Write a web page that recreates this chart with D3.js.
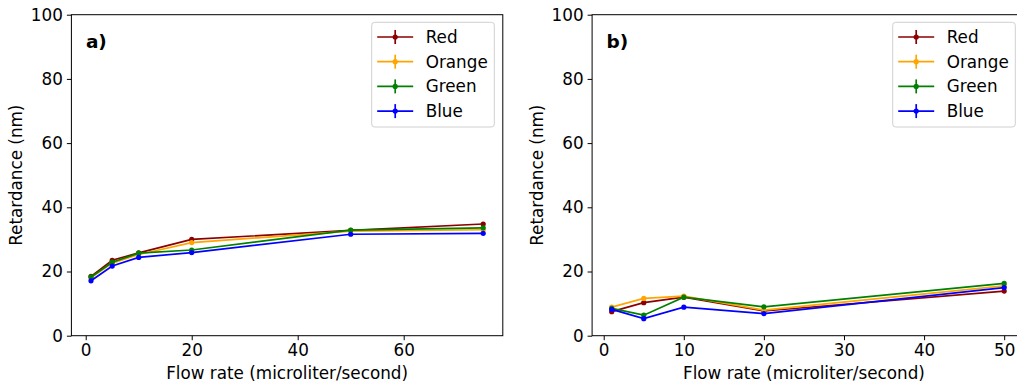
<!DOCTYPE html>
<html>
<head>
<meta charset="utf-8">
<script src="https://cdn.jsdelivr.net/npm/d3@7"></script>
<style>
  html, body { margin: 0; padding: 0; background: #fff; }
  svg { display: block; font-family: "DejaVu Sans", sans-serif; }
</style>
</head>
<body>
<svg id="chart" width="1017" height="387"></svg>
<script>
// Flow rates (microliter/second) for each experiment
const flowA = [1, 5, 10, 20, 50, 75];
const flowB = [1, 5, 10, 20, 50];

// Retardance (nm) per colour channel, experiment a)
const redA    = [18.5, 23.5, 25.8, 30.0, 32.8, 34.8];
const orangeA = [18.0, 22.6, 25.3, 29.0, 32.6, 33.0];
const greenA  = [18.3, 22.9, 25.7, 26.7, 32.9, 33.6];
const blueA   = [17.1, 21.7, 24.4, 25.9, 31.6, 31.9];

// Retardance (nm) per colour channel, experiment b)
const redB    = [7.5, 10.3, 12.0, 7.7, 13.9];
const orangeB = [8.9, 11.6, 12.3, 8.0, 15.5];
const greenB  = [8.5, 6.4, 12.0, 9.0, 16.3];
const blueB   = [8.2, 5.3, 8.9, 6.9, 15.0];

// Standard deviations (nm)
const errA = [0.3, 0.3, 0.3, 0.3, 0.3, 0.3];
const errB = [0.3, 0.3, 0.3, 0.3, 0.3];

const seriesNames = ["Red", "Orange", "Green", "Blue"];
const seriesColors = ["#8b0000", "#ffa500", "#008000", "#0000ff"];

const yTicks = [0, 20, 40, 60, 80, 100];
const xTicksA = [0, 20, 40, 60];
const xTicksB = [0, 10, 20, 30, 40, 50];

const panels = [
  { tag: "a)", flow: flowA, values: [redA, orangeA, greenA, blueA], err: errA,
    xTicks: xTicksA, left: 71.4, right: 502.8 },
  { tag: "b)", flow: flowB, values: [redB, orangeB, greenB, blueB], err: errB,
    xTicks: xTicksB, left: 592.1, right: 1023.8 }
];

const plotTop = 14.7, plotBottom = 335.7;
const svg = d3.select("#chart");
const fs = 16.8;

panels.forEach(p => {
  const [fmin, fmax] = d3.extent(p.flow);
  const pad = (fmax - fmin) * 0.05;
  const x = d3.scaleLinear().domain([fmin - pad, fmax + pad]).range([p.left, p.right]);
  const y = d3.scaleLinear().domain([0, 100]).range([plotBottom, plotTop]);

  const g = svg.append("g");

  // axes
  const xAxis = d3.axisBottom(x).tickValues(p.xTicks).tickFormat(d3.format("d"))
    .tickSize(4.5).tickPadding(4);
  const yAxis = d3.axisLeft(y).tickValues(yTicks).tickFormat(d3.format("d"))
    .tickSize(4.5).tickPadding(4);

  const gx = g.append("g").attr("transform", `translate(0,${plotBottom})`).call(xAxis);
  const gy = g.append("g").attr("transform", `translate(${p.left},0)`).call(yAxis);
  [gx, gy].forEach(ax => {
    ax.select(".domain").remove();
    ax.selectAll(".tick line").attr("stroke", "#000").attr("stroke-width", 1);
    ax.selectAll(".tick text").attr("font-size", fs).attr("fill", "#000")
      .attr("font-family", "DejaVu Sans, sans-serif");
  });

  // frame
  g.append("rect")
    .attr("x", p.left).attr("y", plotTop)
    .attr("width", p.right - p.left).attr("height", plotBottom - plotTop)
    .attr("fill", "none").attr("stroke", "#000").attr("stroke-width", 1);

  // series
  const line = d3.line().x((d, i) => x(p.flow[i])).y(d => y(d));
  p.values.forEach((vals, si) => {
    const c = seriesColors[si];
    const sg = g.append("g");
    sg.append("path").datum(vals).attr("d", line)
      .attr("fill", "none").attr("stroke", c).attr("stroke-width", 1.7);
    sg.selectAll("line.err").data(vals).join("line").attr("class", "err")
      .attr("x1", (d, i) => x(p.flow[i])).attr("x2", (d, i) => x(p.flow[i]))
      .attr("y1", (d, i) => y(d - p.err[i])).attr("y2", (d, i) => y(d + p.err[i]))
      .attr("stroke", c).attr("stroke-width", 1.7);
    sg.selectAll("circle").data(vals).join("circle")
      .attr("cx", (d, i) => x(p.flow[i])).attr("cy", d => y(d))
      .attr("r", 2.6).attr("fill", c);
  });

  // panel tag
  g.append("text").attr("x", x.range()[0] + 14.5).attr("y", 47.5)
    .attr("font-size", 18.5).attr("font-weight", "bold").text(p.tag);

  // axis labels
  g.append("text")
    .attr("x", (p.left + p.right) / 2 - (p.tag === "b)" ? 4 : 0))
    .attr("y", 379).attr("text-anchor", "middle").attr("font-size", fs)
    .text("Flow rate (microliter/second)");
  g.append("text")
    .attr("transform", `translate(${p.left - 49.5},${(plotTop + plotBottom) / 2}) rotate(-90)`)
    .attr("text-anchor", "middle").attr("font-size", fs)
    .text("Retardance (nm)");

  // legend
  const lw = 122.6, lh = 104.7;
  const lx = p.right - 8.5 - lw, ly = 22.3;
  const lg = g.append("g").attr("transform", `translate(${lx},${ly})`);
  lg.append("rect").attr("width", lw).attr("height", lh).attr("rx", 3)
    .attr("fill", "#fff").attr("fill-opacity", 0.8)
    .attr("stroke", "#d0d0d0").attr("stroke-width", 1);
  seriesNames.forEach((name, i) => {
    const ry = 14.7 + i * 24.7;
    const row = lg.append("g").attr("transform", `translate(0,${ry})`);
    row.append("line").attr("x1", 5.5).attr("x2", 41.5)
      .attr("stroke", seriesColors[i]).attr("stroke-width", 1.7);
    row.append("line").attr("x1", 23.5).attr("x2", 23.5).attr("y1", -7).attr("y2", 7)
      .attr("stroke", seriesColors[i]).attr("stroke-width", 1.7);
    row.append("circle").attr("cx", 23.5).attr("r", 2.6).attr("fill", seriesColors[i]);
    row.append("text").attr("x", 54).attr("y", 6).attr("font-size", fs).text(name);
  });
});
</script>
</body>
</html>
